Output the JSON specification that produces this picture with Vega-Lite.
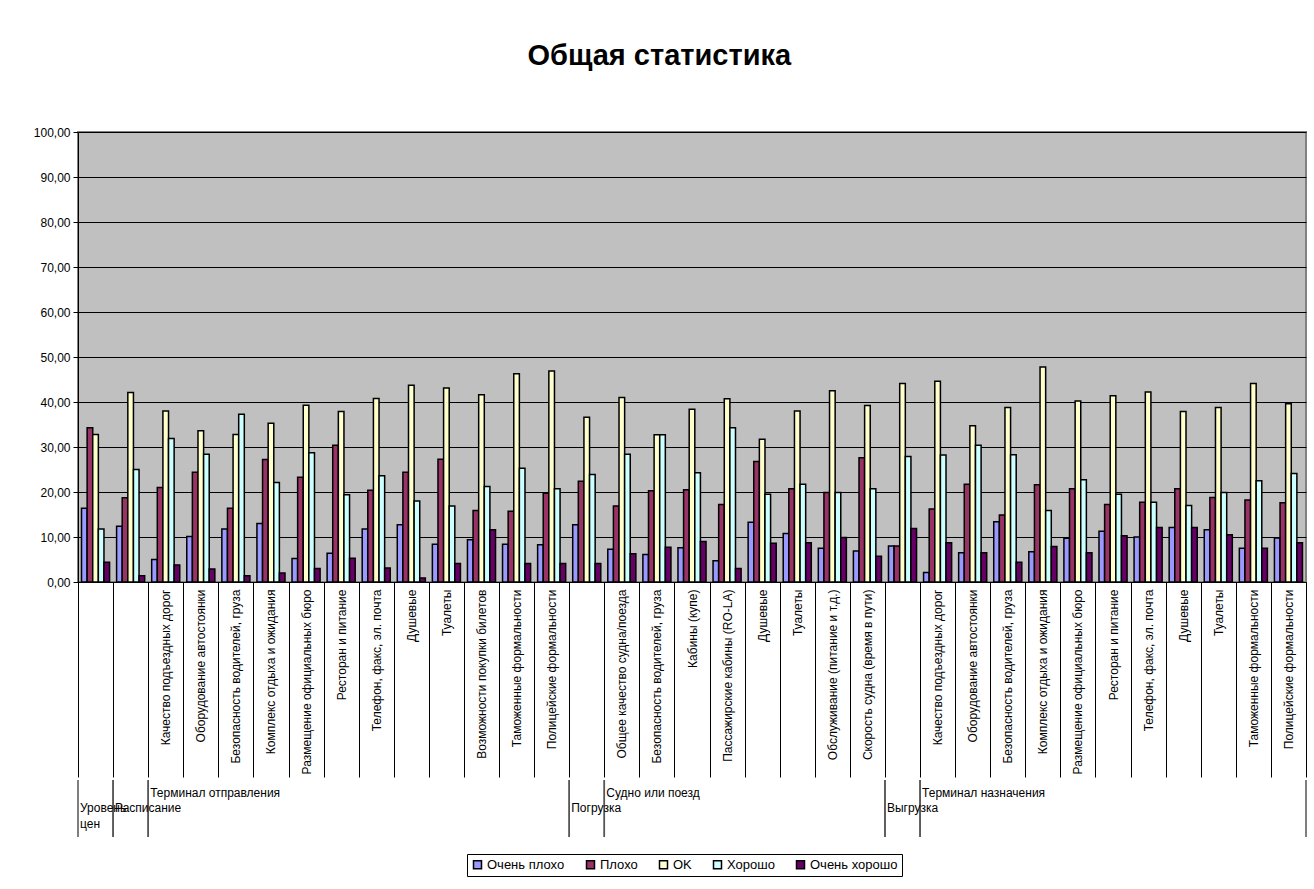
{
  "$schema": "https://vega.github.io/schema/vega-lite/v6.json",
  "padding": {"left": 11, "top": 42, "right": 8, "bottom": 4},
  "background": "white",
  "config": {
    "font": "Liberation Sans",
    "view": {"stroke": null},
    "axis": {"labelColor": "black", "labelFont": "Liberation Sans"},
    "legend": {"labelColor": "black"}
  },
  "title": {"text": "Общая статистика", "fontSize": 29, "fontWeight": "bold", "font": "Liberation Sans", "color": "black", "anchor": "middle", "offset": 54},
  "datasets": {
    "bars": [
      {"c": "01 ", "s": "Очень плохо", "v": 16.4}, {"c": "01 ", "s": "Плохо", "v": 34.3}, {"c": "01 ", "s": "OK", "v": 32.8}, {"c": "01 ", "s": "Хорошо", "v": 11.8}, {"c": "01 ", "s": "Очень хорошо", "v": 4.4},
      {"c": "02 ", "s": "Очень плохо", "v": 12.4}, {"c": "02 ", "s": "Плохо", "v": 18.7}, {"c": "02 ", "s": "OK", "v": 42.1}, {"c": "02 ", "s": "Хорошо", "v": 25.0}, {"c": "02 ", "s": "Очень хорошо", "v": 1.4},
      {"c": "03 Качество подъездных дорог", "s": "Очень плохо", "v": 5.0}, {"c": "03 Качество подъездных дорог", "s": "Плохо", "v": 21.0}, {"c": "03 Качество подъездных дорог", "s": "OK", "v": 38.0}, {"c": "03 Качество подъездных дорог", "s": "Хорошо", "v": 31.9}, {"c": "03 Качество подъездных дорог", "s": "Очень хорошо", "v": 3.8},
      {"c": "04 Оборудование автостоянки", "s": "Очень плохо", "v": 10.1}, {"c": "04 Оборудование автостоянки", "s": "Плохо", "v": 24.4}, {"c": "04 Оборудование автостоянки", "s": "OK", "v": 33.6}, {"c": "04 Оборудование автостоянки", "s": "Хорошо", "v": 28.4}, {"c": "04 Оборудование автостоянки", "s": "Очень хорошо", "v": 2.9},
      {"c": "05 Безопасность водителей, груза", "s": "Очень плохо", "v": 11.8}, {"c": "05 Безопасность водителей, груза", "s": "Плохо", "v": 16.4}, {"c": "05 Безопасность водителей, груза", "s": "OK", "v": 32.8}, {"c": "05 Безопасность водителей, груза", "s": "Хорошо", "v": 37.3}, {"c": "05 Безопасность водителей, груза", "s": "Очень хорошо", "v": 1.4},
      {"c": "06 Комплекс отдыха и ожидания", "s": "Очень плохо", "v": 13.0}, {"c": "06 Комплекс отдыха и ожидания", "s": "Плохо", "v": 27.2}, {"c": "06 Комплекс отдыха и ожидания", "s": "OK", "v": 35.3}, {"c": "06 Комплекс отдыха и ожидания", "s": "Хорошо", "v": 22.1}, {"c": "06 Комплекс отдыха и ожидания", "s": "Очень хорошо", "v": 2.0},
      {"c": "07 Размещение официальных бюро", "s": "Очень плохо", "v": 5.2}, {"c": "07 Размещение официальных бюро", "s": "Плохо", "v": 23.3}, {"c": "07 Размещение официальных бюро", "s": "OK", "v": 39.3}, {"c": "07 Размещение официальных бюро", "s": "Хорошо", "v": 28.7}, {"c": "07 Размещение официальных бюро", "s": "Очень хорошо", "v": 3.0},
      {"c": "08 Ресторан и питание", "s": "Очень плохо", "v": 6.4}, {"c": "08 Ресторан и питание", "s": "Плохо", "v": 30.4}, {"c": "08 Ресторан и питание", "s": "OK", "v": 37.9}, {"c": "08 Ресторан и питание", "s": "Хорошо", "v": 19.4}, {"c": "08 Ресторан и питание", "s": "Очень хорошо", "v": 5.3},
      {"c": "09 Телефон, факс, эл. почта", "s": "Очень плохо", "v": 11.8}, {"c": "09 Телефон, факс, эл. почта", "s": "Плохо", "v": 20.4}, {"c": "09 Телефон, факс, эл. почта", "s": "OK", "v": 40.8}, {"c": "09 Телефон, факс, эл. почта", "s": "Хорошо", "v": 23.6}, {"c": "09 Телефон, факс, эл. почта", "s": "Очень хорошо", "v": 3.1},
      {"c": "10 Душевые", "s": "Очень плохо", "v": 12.7}, {"c": "10 Душевые", "s": "Плохо", "v": 24.4}, {"c": "10 Душевые", "s": "OK", "v": 43.7}, {"c": "10 Душевые", "s": "Хорошо", "v": 18.0}, {"c": "10 Душевые", "s": "Очень хорошо", "v": 0.9},
      {"c": "11 Туалеты", "s": "Очень плохо", "v": 8.4}, {"c": "11 Туалеты", "s": "Плохо", "v": 27.3}, {"c": "11 Туалеты", "s": "OK", "v": 43.1}, {"c": "11 Туалеты", "s": "Хорошо", "v": 16.9}, {"c": "11 Туалеты", "s": "Очень хорошо", "v": 4.1},
      {"c": "12 Возможности покупки билетов", "s": "Очень плохо", "v": 9.4}, {"c": "12 Возможности покупки билетов", "s": "Плохо", "v": 15.9}, {"c": "12 Возможности покупки билетов", "s": "OK", "v": 41.6}, {"c": "12 Возможности покупки билетов", "s": "Хорошо", "v": 21.2}, {"c": "12 Возможности покупки билетов", "s": "Очень хорошо", "v": 11.6},
      {"c": "13 Таможенные формальности", "s": "Очень плохо", "v": 8.4}, {"c": "13 Таможенные формальности", "s": "Плохо", "v": 15.7}, {"c": "13 Таможенные формальности", "s": "OK", "v": 46.3}, {"c": "13 Таможенные формальности", "s": "Хорошо", "v": 25.3}, {"c": "13 Таможенные формальности", "s": "Очень хорошо", "v": 4.1},
      {"c": "14 Полицейские формальности", "s": "Очень плохо", "v": 8.3}, {"c": "14 Полицейские формальности", "s": "Плохо", "v": 19.7}, {"c": "14 Полицейские формальности", "s": "OK", "v": 46.9}, {"c": "14 Полицейские формальности", "s": "Хорошо", "v": 20.7}, {"c": "14 Полицейские формальности", "s": "Очень хорошо", "v": 4.1},
      {"c": "15 ", "s": "Очень плохо", "v": 12.7}, {"c": "15 ", "s": "Плохо", "v": 22.4}, {"c": "15 ", "s": "OK", "v": 36.6}, {"c": "15 ", "s": "Хорошо", "v": 23.9}, {"c": "15 ", "s": "Очень хорошо", "v": 4.1},
      {"c": "16 Общее качество судна/поезда", "s": "Очень плохо", "v": 7.3}, {"c": "16 Общее качество судна/поезда", "s": "Плохо", "v": 16.9}, {"c": "16 Общее качество судна/поезда", "s": "OK", "v": 41.0}, {"c": "16 Общее качество судна/поезда", "s": "Хорошо", "v": 28.4}, {"c": "16 Общее качество судна/поезда", "s": "Очень хорошо", "v": 6.3},
      {"c": "17 Безопасность водителей, груза", "s": "Очень плохо", "v": 6.1}, {"c": "17 Безопасность водителей, груза", "s": "Плохо", "v": 20.3}, {"c": "17 Безопасность водителей, груза", "s": "OK", "v": 32.7}, {"c": "17 Безопасность водителей, груза", "s": "Хорошо", "v": 32.7}, {"c": "17 Безопасность водителей, груза", "s": "Очень хорошо", "v": 7.7},
      {"c": "18 Кабины (купе)", "s": "Очень плохо", "v": 7.6}, {"c": "18 Кабины (купе)", "s": "Плохо", "v": 20.5}, {"c": "18 Кабины (купе)", "s": "OK", "v": 38.4}, {"c": "18 Кабины (купе)", "s": "Хорошо", "v": 24.3}, {"c": "18 Кабины (купе)", "s": "Очень хорошо", "v": 9.0},
      {"c": "19 Пассажирские кабины (RO-LA)", "s": "Очень плохо", "v": 4.7}, {"c": "19 Пассажирские кабины (RO-LA)", "s": "Плохо", "v": 17.2}, {"c": "19 Пассажирские кабины (RO-LA)", "s": "OK", "v": 40.7}, {"c": "19 Пассажирские кабины (RO-LA)", "s": "Хорошо", "v": 34.3}, {"c": "19 Пассажирские кабины (RO-LA)", "s": "Очень хорошо", "v": 3.0},
      {"c": "20 Душевые", "s": "Очень плохо", "v": 13.3}, {"c": "20 Душевые", "s": "Плохо", "v": 26.8}, {"c": "20 Душевые", "s": "OK", "v": 31.7}, {"c": "20 Душевые", "s": "Хорошо", "v": 19.5}, {"c": "20 Душевые", "s": "Очень хорошо", "v": 8.6},
      {"c": "21 Туалеты", "s": "Очень плохо", "v": 10.8}, {"c": "21 Туалеты", "s": "Плохо", "v": 20.7}, {"c": "21 Туалеты", "s": "OK", "v": 38.0}, {"c": "21 Туалеты", "s": "Хорошо", "v": 21.7}, {"c": "21 Туалеты", "s": "Очень хорошо", "v": 8.7},
      {"c": "22 Обслуживание (питание и т.д.)", "s": "Очень плохо", "v": 7.5}, {"c": "22 Обслуживание (питание и т.д.)", "s": "Плохо", "v": 19.9}, {"c": "22 Обслуживание (питание и т.д.)", "s": "OK", "v": 42.5}, {"c": "22 Обслуживание (питание и т.д.)", "s": "Хорошо", "v": 19.9}, {"c": "22 Обслуживание (питание и т.д.)", "s": "Очень хорошо", "v": 9.9},
      {"c": "23 Скорость судна (время в пути)", "s": "Очень плохо", "v": 6.9}, {"c": "23 Скорость судна (время в пути)", "s": "Плохо", "v": 27.6}, {"c": "23 Скорость судна (время в пути)", "s": "OK", "v": 39.2}, {"c": "23 Скорость судна (время в пути)", "s": "Хорошо", "v": 20.7}, {"c": "23 Скорость судна (время в пути)", "s": "Очень хорошо", "v": 5.7},
      {"c": "24 ", "s": "Очень плохо", "v": 8.0}, {"c": "24 ", "s": "Плохо", "v": 8.0}, {"c": "24 ", "s": "OK", "v": 44.1}, {"c": "24 ", "s": "Хорошо", "v": 27.9}, {"c": "24 ", "s": "Очень хорошо", "v": 11.9},
      {"c": "25 Качество подъездных дорог", "s": "Очень плохо", "v": 2.1}, {"c": "25 Качество подъездных дорог", "s": "Плохо", "v": 16.2}, {"c": "25 Качество подъездных дорог", "s": "OK", "v": 44.6}, {"c": "25 Качество подъездных дорог", "s": "Хорошо", "v": 28.2}, {"c": "25 Качество подъездных дорог", "s": "Очень хорошо", "v": 8.7},
      {"c": "26 Оборудование автостоянки", "s": "Очень плохо", "v": 6.5}, {"c": "26 Оборудование автостоянки", "s": "Плохо", "v": 21.7}, {"c": "26 Оборудование автостоянки", "s": "OK", "v": 34.7}, {"c": "26 Оборудование автостоянки", "s": "Хорошо", "v": 30.4}, {"c": "26 Оборудование автостоянки", "s": "Очень хорошо", "v": 6.5},
      {"c": "27 Безопасность водителей, груза", "s": "Очень плохо", "v": 13.4}, {"c": "27 Безопасность водителей, груза", "s": "Плохо", "v": 14.9}, {"c": "27 Безопасность водителей, груза", "s": "OK", "v": 38.8}, {"c": "27 Безопасность водителей, груза", "s": "Хорошо", "v": 28.3}, {"c": "27 Безопасность водителей, груза", "s": "Очень хорошо", "v": 4.4},
      {"c": "28 Комплекс отдыха и ожидания", "s": "Очень плохо", "v": 6.7}, {"c": "28 Комплекс отдыха и ожидания", "s": "Плохо", "v": 21.6}, {"c": "28 Комплекс отдыха и ожидания", "s": "OK", "v": 47.8}, {"c": "28 Комплекс отдыха и ожидания", "s": "Хорошо", "v": 15.9}, {"c": "28 Комплекс отдыха и ожидания", "s": "Очень хорошо", "v": 7.9},
      {"c": "29 Размещение официальных бюро", "s": "Очень плохо", "v": 9.7}, {"c": "29 Размещение официальных бюро", "s": "Плохо", "v": 20.7}, {"c": "29 Размещение официальных бюро", "s": "OK", "v": 40.2}, {"c": "29 Размещение официальных бюро", "s": "Хорошо", "v": 22.7}, {"c": "29 Размещение официальных бюро", "s": "Очень хорошо", "v": 6.5},
      {"c": "30 Ресторан и питание", "s": "Очень плохо", "v": 11.3}, {"c": "30 Ресторан и питание", "s": "Плохо", "v": 17.2}, {"c": "30 Ресторан и питание", "s": "OK", "v": 41.4}, {"c": "30 Ресторан и питание", "s": "Хорошо", "v": 19.5}, {"c": "30 Ресторан и питание", "s": "Очень хорошо", "v": 10.3},
      {"c": "31 Телефон, факс, эл. почта", "s": "Очень плохо", "v": 10.0}, {"c": "31 Телефон, факс, эл. почта", "s": "Плохо", "v": 17.7}, {"c": "31 Телефон, факс, эл. почта", "s": "OK", "v": 42.2}, {"c": "31 Телефон, факс, эл. почта", "s": "Хорошо", "v": 17.7}, {"c": "31 Телефон, факс, эл. почта", "s": "Очень хорошо", "v": 12.1},
      {"c": "32 Душевые", "s": "Очень плохо", "v": 12.1}, {"c": "32 Душевые", "s": "Плохо", "v": 20.7}, {"c": "32 Душевые", "s": "OK", "v": 37.9}, {"c": "32 Душевые", "s": "Хорошо", "v": 17.0}, {"c": "32 Душевые", "s": "Очень хорошо", "v": 12.1},
      {"c": "33 Туалеты", "s": "Очень плохо", "v": 11.6}, {"c": "33 Туалеты", "s": "Плохо", "v": 18.8}, {"c": "33 Туалеты", "s": "OK", "v": 38.8}, {"c": "33 Туалеты", "s": "Хорошо", "v": 19.9}, {"c": "33 Туалеты", "s": "Очень хорошо", "v": 10.5},
      {"c": "34 Таможенные формальности", "s": "Очень плохо", "v": 7.5}, {"c": "34 Таможенные формальности", "s": "Плохо", "v": 18.2}, {"c": "34 Таможенные формальности", "s": "OK", "v": 44.1}, {"c": "34 Таможенные формальности", "s": "Хорошо", "v": 22.5}, {"c": "34 Таможенные формальности", "s": "Очень хорошо", "v": 7.5},
      {"c": "35 Полицейские формальности", "s": "Очень плохо", "v": 9.8}, {"c": "35 Полицейские формальности", "s": "Плохо", "v": 17.6}, {"c": "35 Полицейские формальности", "s": "OK", "v": 39.6}, {"c": "35 Полицейские формальности", "s": "Хорошо", "v": 24.1}, {"c": "35 Полицейские формальности", "s": "Очень хорошо", "v": 8.7}
    ],
    "groups": [
      {"first": "01 ", "last": "01 ", "g": "Уровень\nцен", "span": 1},
      {"first": "02 ", "last": "02 ", "g": "Расписание", "span": 1},
      {"first": "03 Качество подъездных дорог", "last": "14 Полицейские формальности", "g": "Терминал отправления", "span": 12},
      {"first": "15 ", "last": "15 ", "g": "Погрузка", "span": 1},
      {"first": "16 Общее качество судна/поезда", "last": "23 Скорость судна (время в пути)", "g": "Судно или поезд", "span": 8},
      {"first": "24 ", "last": "24 ", "g": "Выгрузка", "span": 1},
      {"first": "25 Качество подъездных дорог", "last": "35 Полицейские формальности", "g": "Терминал назначения", "span": 11}
    ]
  },
  "spacing": 0,
  "resolve": {"scale": {"x": "shared", "color": "shared"}},
  "vconcat": [
    {
      "width": 1228,
      "height": 450,
      "data": {"name": "bars"},
      "view": {"fill": "#C0C0C0", "stroke": "#808080", "strokeWidth": 2},
      "mark": {"type": "bar", "stroke": "black", "strokeWidth": 1.5},
      "encoding": {
        "x": {
          "field": "c", "type": "nominal",
          "scale": {"paddingInner": 0, "paddingOuter": 0},
          "axis": {
            "title": null, "labelAngle": 270,
            "labelExpr": "isString(datum.value) ? substring(datum.value, 3) : ''",
            "tickBand": "extent", "tickSize": 195, "tickColor": "black", "tickWidth": 1,
            "labelPadding": -188, "labelFontSize": 12, "labelLimit": 0, "labelOverlap": false,
            "domainColor": "black", "domainWidth": 1
          }
        },
        "xOffset": {
          "field": "s", "type": "nominal",
          "sort": ["Очень плохо", "Плохо", "OK", "Хорошо", "Очень хорошо"],
          "scale": {"paddingInner": 0, "paddingOuter": 0.625}
        },
        "y": {
          "field": "v", "type": "quantitative",
          "scale": {"domain": [0, 100], "nice": false},
          "axis": {
            "title": null, "values": [0, 10, 20, 30, 40, 50, 60, 70, 80, 90, 100],
            "labelExpr": "replace(format(datum.value, '.2f'), '.', ',')",
            "grid": true, "gridColor": "black", "gridWidth": 1, "gridOpacity": 1,
            "tickColor": "black", "tickSize": 5, "domainColor": "black", "domainWidth": 1,
            "labelFontSize": 12, "labelPadding": 3, "minExtent": 66
          }
        },
        "color": {
          "field": "s", "type": "nominal",
          "sort": ["Очень плохо", "Плохо", "OK", "Хорошо", "Очень хорошо"],
          "scale": {
            "domain": ["Очень плохо", "Плохо", "OK", "Хорошо", "Очень хорошо"],
            "range": ["#9999FF", "#993366", "#FFFFCC", "#CCFFFF", "#660066"]
          },
          "legend": {
            "title": null, "orient": "none", "legendX": 389, "legendY": 722, "direction": "horizontal",
            "strokeColor": "black", "padding": 4,
            "labelFontSize": 13, "labelFont": "Liberation Sans",
            "symbolType": "square", "symbolSize": 64, "symbolStrokeColor": "black", "symbolStrokeWidth": 1.5,
            "columnPadding": 18, "labelOffset": 3
          }
        }
      }
    },
    {
      "width": 1228,
      "height": 57,
      "data": {"name": "groups"},
      "layer": [
        {
          "mark": {"type": "rule", "color": "#555555", "strokeWidth": 1.5},
          "encoding": {"x": {"field": "first", "type": "nominal", "bandPosition": 0, "axis": null}}
        },
        {
          "mark": {"type": "rule", "color": "#555555", "strokeWidth": 1.5},
          "encoding": {"x": {"field": "last", "type": "nominal", "bandPosition": 1, "axis": null}}
        },
        {
          "transform": [{"filter": "datum.span > 1"}],
          "mark": {"type": "text", "align": "left", "baseline": "top", "dx": 2, "dy": -21, "fontSize": 12, "color": "black", "lineBreak": "\n"},
          "encoding": {"x": {"field": "first", "type": "nominal", "bandPosition": 0, "axis": null}, "text": {"field": "g"}}
        },
        {
          "transform": [{"filter": "datum.span == 1"}],
          "mark": {"type": "text", "align": "left", "baseline": "top", "dx": 2, "dy": -6, "fontSize": 12, "color": "black", "lineBreak": "\n", "lineHeight": 16},
          "encoding": {"x": {"field": "first", "type": "nominal", "bandPosition": 0, "axis": null}, "text": {"field": "g"}}
        }
      ]
    }
  ]
}
